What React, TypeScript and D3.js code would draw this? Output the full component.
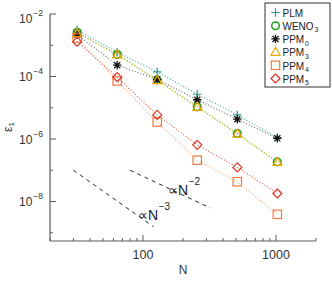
import React from "react";
import * as d3 from "d3";

const N = [32, 64, 128, 256, 512, 1024];
const PLM = [3.1e-3, 6.0e-4, 1.4e-4, 2.7e-5, 5.9e-6, 1.1e-6];
const WENO3 = [2.6e-3, 5.1e-4, 7.8e-5, 1.07e-5, 1.5e-6, 1.85e-7];
const PPM0 = [2.2e-3, 2.3e-4, 8.0e-5, 1.8e-5, 4.3e-6, 1.05e-6];
const PPM3 = [2.4e-3, 5.0e-4, 7.5e-5, 1.05e-5, 1.45e-6, 1.8e-7];
const PPM4 = [1.7e-3, 7.2e-5, 3.5e-6, 2.1e-7, 4.3e-8, 3.9e-9];
const PPM5 = [1.3e-3, 9.5e-5, 5.9e-6, 6.5e-7, 1.23e-7, 1.8e-8];

const yMajor = [1e-2, 1e-4, 1e-6, 1e-8];
const yMajorExp = ["−2", "−4", "−6", "−8"];
const yMinor = [1e-3, 1e-5, 1e-7, 1e-9];
const xMajor = [100, 1000];
const xMajorLabels = ["100", "1000"];
const xMinor = [20, 30, 40, 50, 60, 70, 80, 90, 200, 300, 400, 500, 600, 700, 800, 900, 2000];

// reference slopes: [N start, N end, eps at start, exponent]
const refN3 = [30, 120, 1e-7, -3];
const refN2 = [80, 320, 1e-7, -2];

type Sym = "plus" | "circle" | "star" | "tri" | "square" | "diamond";
const series = [
  { name: "PLM", sub: "", vals: PLM, sym: "plus" as Sym, color: "#2f9a8c", line: "#3aa596" },
  { name: "WENO", sub: "3", vals: WENO3, sym: "circle" as Sym, color: "#1f9a1f", line: "#6aa82a" },
  { name: "PPM", sub: "0", vals: PPM0, sym: "star" as Sym, color: "#111111", line: "#666666" },
  { name: "PPM", sub: "3", vals: PPM3, sym: "tri" as Sym, color: "#f0a400", line: "#d8c428" },
  { name: "PPM", sub: "4", vals: PPM4, sym: "square" as Sym, color: "#ee7a3e", line: "#f4a070" },
  { name: "PPM", sub: "5", vals: PPM5, sym: "diamond" as Sym, color: "#dd3322", line: "#e05535" },
];

function Marker({ sym, x, y, color }: { sym: Sym; x: number; y: number; color: string }) {
  const s = 4.2;
  const common = { stroke: color, strokeWidth: 1.2, fill: "none" };
  switch (sym) {
    case "plus":
      return <path d={`M${x - s},${y}H${x + s}M${x},${y - s}V${y + s}`} {...common} />;
    case "circle":
      return <circle cx={x} cy={y} r={3.8} {...common} strokeWidth={1.5} />;
    case "star": {
      const d = s * 0.72;
      return (
        <path
          d={`M${x - s},${y}H${x + s}M${x},${y - s}V${y + s}M${x - d},${y - d}L${x + d},${y + d}M${x - d},${y + d}L${x + d},${y - d}`}
          {...common}
          strokeWidth={1.3}
        />
      );
    }
    case "tri":
      return <path d={`M${x},${y - 4.8}L${x + 4.5},${y + 3.2}L${x - 4.5},${y + 3.2}Z`} {...common} />;
    case "square":
      return <rect x={x - 4.2} y={y - 4.2} width={8.4} height={8.4} {...common} />;
    case "diamond":
      return <path d={`M${x},${y - 4.5}L${x + 4.5},${y}L${x},${y + 4.5}L${x - 4.5},${y}Z`} {...common} />;
  }
  return null;
}

export default function App() {
  const W = 332, H = 285;
  const x = d3.scaleLog().domain([20, 2000]).range([50, 316]);
  const y = d3.scaleLog().domain([Math.pow(10, -9.264), 1e-2]).range([241, 14]);
  const line = d3
    .line<number>()
    .x((_, i) => x(N[i]))
    .y((v) => y(v));
  const axisColor = "#5a5a5a";
  const font = "'Liberation Sans', Arial, sans-serif";
  const refLine = (r: number[]) => {
    const [n0, n1, e0, p] = r;
    const e1 = e0 * Math.pow(n1 / n0, p);
    return { x1: x(n0), y1: y(e0), x2: x(n1), y2: y(e1) };
  };
  const r3 = refLine(refN3);
  const r2 = refLine(refN2);

  return (
    <svg width={W} height={H} style={{ position: "absolute", left: 0, top: 0, background: "#fff" }} fontFamily={font}>
      <rect width={W} height={H} fill="#fff" />
      {/* axes */}
      <line x1={50} y1={14} x2={50} y2={241} stroke={axisColor} strokeWidth={1.2} />
      <line x1={50} y1={241} x2={316} y2={241} stroke={axisColor} strokeWidth={1.2} />
      {yMajor.map((v, i) => (
        <g key={"ym" + i}>
          <line x1={50} x2={56} y1={y(v)} y2={y(v)} stroke={axisColor} strokeWidth={1} />
          <text x={19} y={y(v) + (i === 0 ? 9 : 4.5)} fontSize={12} fill="#333">
            10<tspan fontSize={8.5} dx={1} dy={-7}>{yMajorExp[i]}</tspan>
          </text>
        </g>
      ))}
      {yMinor.map((v, i) => (
        <line key={"yn" + i} x1={50} x2={53} y1={y(v)} y2={y(v)} stroke={axisColor} strokeWidth={1} />
      ))}
      {xMajor.map((v, i) => (
        <g key={"xm" + i}>
          <line x1={x(v)} x2={x(v)} y1={241} y2={235} stroke={axisColor} strokeWidth={1} />
          <text x={x(v)} y={259} fontSize={12.5} textAnchor="middle" fill="#333">{xMajorLabels[i]}</text>
        </g>
      ))}
      {xMinor.map((v, i) => (
        <line key={"xn" + i} x1={x(v)} x2={x(v)} y1={241} y2={238} stroke={axisColor} strokeWidth={1} />
      ))}
      <text x={183} y={274} fontSize={12} textAnchor="middle" fill="#333">N</text>
      <g transform="translate(12,127) rotate(-90)">
        <text x={0} y={0} fontSize={12} textAnchor="middle" fill="#333">
          ε<tspan fontSize={8} dy={2}>1</tspan>
        </text>
      </g>

      {/* reference slopes */}
      <line {...r3} stroke="#111" strokeWidth={0.9} strokeDasharray="4,4" />
      <line {...r2} stroke="#111" strokeWidth={0.9} strokeDasharray="4,4" />
      <text x={138} y={220} fontSize={14} fill="#222">
        ∝N<tspan fontSize={10} dx={0.5} dy={-10}>−3</tspan>
      </text>
      <text x={168} y={195} fontSize={14} fill="#222">
        ∝N<tspan fontSize={10} dx={0.5} dy={-10}>−2</tspan>
      </text>

      {/* series */}
      {series.map((s, k) => (
        <path key={"l" + k} d={line(s.vals) || ""} fill="none" stroke={s.line} strokeWidth={1.1} strokeDasharray="1,2" />
      ))}
      {series.map((s, k) => (
        <g key={"m" + k}>
          {s.vals.map((v, i) => (
            <Marker key={i} sym={s.sym} x={x(N[i])} y={y(v)} color={s.color} />
          ))}
        </g>
      ))}

      {/* legend */}
      <rect x={265} y={3} width={65} height={84} fill="#fff" stroke="#333" strokeWidth={1} />
      {series.map((s, k) => {
        const cy = 12.5 + k * 13.2;
        return (
          <g key={"lg" + k}>
            <Marker sym={s.sym} x={275.5} y={cy} color={s.color} />
            <text transform={`translate(282.5,${cy + 4.2}) scale(0.87,1)`} fontSize={11.5} fill="#222">
              {s.name}
              {s.sub && (
                <tspan fontSize={8} dx={1} dy={2.5}>
                  {s.sub}
                </tspan>
              )}
            </text>
          </g>
        );
      })}
    </svg>
  );
}
